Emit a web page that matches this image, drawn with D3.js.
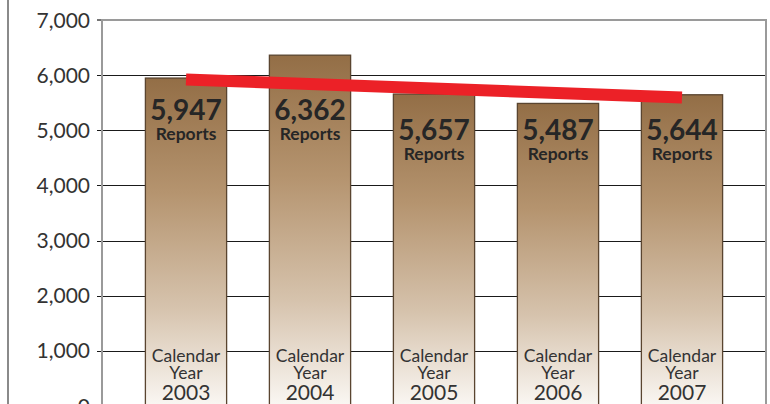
<!DOCTYPE html>
<html>
<head>
<meta charset="utf-8">
<script src="https://cdn.jsdelivr.net/npm/d3@7"></script>
<style>
  body { margin: 0; background: #fff; }
  svg { display: block; font-family: Lato, "Open Sans", sans-serif; }
</style>
</head>
<body>
<svg id="chart" width="770" height="404"></svg>
<script>
// data
var years = ["2003", "2004", "2005", "2006", "2007"];
var reports = [5947, 6362, 5657, 5487, 5644];
var yTicks = [0, 1000, 2000, 3000, 4000, 5000, 6000, 7000];
var trendStart = 5920, trendEnd = 5595; // red trend line end values

// layout: baseline of the value label inside each bar
var labelBaseline = [120, 120, 140, 140, 140];

var svg = d3.select("#chart");

// note: "top" is taken by window.top, so use other names
var plotLeft = 102, plotRight = 766, plotTop = 20, plotBottom = 406;

var x = d3.scaleBand()
    .domain(years)
    .range([plotLeft, plotRight])
    .paddingInner(0.345)
    .paddingOuter(0.35);

var y = d3.scaleLinear()
    .domain([0, 7000])
    .range([plotBottom, plotTop]);

// gradient for bars
var grad = svg.append("defs").append("linearGradient")
    .attr("id", "barGrad")
    .attr("x1", 0).attr("y1", 0).attr("x2", 0).attr("y2", 1);
grad.append("stop").attr("offset", "0%").attr("stop-color", "#936e46");
grad.append("stop").attr("offset", "35%").attr("stop-color", "#b5946f");
grad.append("stop").attr("offset", "70%").attr("stop-color", "#d6c3ad");
grad.append("stop").attr("offset", "100%").attr("stop-color", "#faf7f3");

// outer gray rule on the left
svg.append("line")
    .attr("x1", 8).attr("x2", 8).attr("y1", 0).attr("y2", 404)
    .attr("stroke", "#8a8a8a").attr("stroke-width", 2);

// gridlines + tick marks
svg.append("g")
  .selectAll("line")
  .data(yTicks.filter(function(d) { return d < 7000; }))
  .enter().append("line")
    .attr("x1", plotLeft - 5).attr("x2", plotRight)
    .attr("y1", function(d) { return Math.round(y(d)) + 0.5; })
    .attr("y2", function(d) { return Math.round(y(d)) + 0.5; })
    .attr("stroke", "#1a1a1a").attr("stroke-width", 1.2);

// frame (top, left, right)
svg.append("line")
    .attr("x1", plotLeft - 5).attr("x2", plotLeft).attr("y1", y(7000)).attr("y2", y(7000))
    .attr("stroke", "#1a1a1a").attr("stroke-width", 1.2);
svg.append("path")
    .attr("d", "M" + plotLeft + "," + plotBottom + "V" + y(7000) + "H" + plotRight + "V" + plotBottom)
    .attr("fill", "none")
    .attr("stroke", "#9a9a9a").attr("stroke-width", 2);

// tick labels
svg.append("g")
  .selectAll("text")
  .data(yTicks)
  .enter().append("text")
    .attr("x", 90)
    .attr("y", function(d) { return y(d) + 7.5; })
    .attr("text-anchor", "end")
    .attr("font-size", 21)
    .attr("fill", "#333")
    .text(function(d) { return d3.format(",")(d); });

// bars
svg.append("g")
  .selectAll("rect")
  .data(reports)
  .enter().append("rect")
    .attr("x", function(d, i) { return x(years[i]); })
    .attr("y", function(d) { return y(d); })
    .attr("width", x.bandwidth())
    .attr("height", function(d) { return plotBottom - y(d); })
    .attr("fill", "url(#barGrad)")
    .attr("stroke", "#5a4530").attr("stroke-width", 1.3);

// red trend line
svg.append("line")
    .attr("x1", x(years[0]) + x.bandwidth() / 2)
    .attr("x2", x(years[years.length - 1]) + x.bandwidth() / 2)
    .attr("y1", y(trendStart))
    .attr("y2", y(trendEnd))
    .attr("stroke", "#ec2127")
    .attr("stroke-width", 12);

// value labels
var lab = svg.append("g")
  .selectAll("g")
  .data(reports)
  .enter().append("g")
    .attr("transform", function(d, i) {
      return "translate(" + (x(years[i]) + x.bandwidth() / 2) + "," + labelBaseline[i] + ")";
    });
lab.append("text")
    .attr("text-anchor", "middle")
    .attr("font-size", 28)
    .attr("font-weight", "bold")
    .attr("fill", "#262626")
    .text(function(d) { return d3.format(",")(d); });
lab.append("text")
    .attr("y", 20)
    .attr("text-anchor", "middle")
    .attr("font-size", 17.5)
    .attr("font-weight", "bold")
    .attr("fill", "#262626")
    .text("Reports");

// calendar year labels
var cy = svg.append("g")
  .selectAll("g")
  .data(years)
  .enter().append("g")
    .attr("transform", function(d) {
      return "translate(" + (x(d) + x.bandwidth() / 2) + ",0)";
    });
cy.append("text").attr("y", 362).attr("text-anchor", "middle")
    .attr("font-size", 17.5).attr("fill", "#333").text("Calendar");
cy.append("text").attr("y", 379).attr("text-anchor", "middle")
    .attr("font-size", 17.5).attr("fill", "#333").text("Year");
cy.append("text").attr("y", 400).attr("text-anchor", "middle")
    .attr("font-size", 21).attr("fill", "#333").text(function(d) { return d; });
</script>
</body>
</html>
